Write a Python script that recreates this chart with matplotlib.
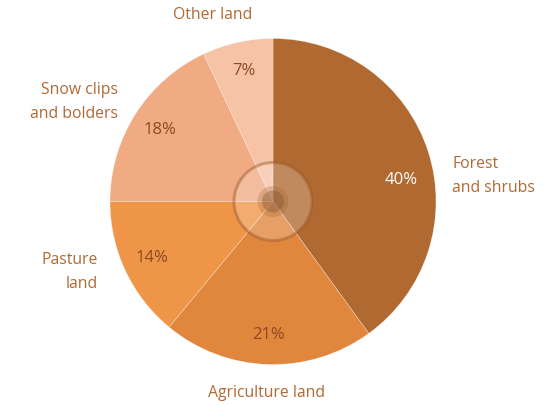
import matplotlib.pyplot as plt
from matplotlib.patches import Circle

# land use shares, clockwise from 12 o'clock
categories = ["Forest\nand shrubs", "Agriculture land", "Pasture\nland",
              "Snow clips\nand bolders", "Other land"]
shares = [40, 21, 14, 18, 7]
slice_colors = ["#B06A31", "#E0863D", "#EF9548", "#F0AB82", "#F7C3A7"]
pct_colors = ["white", "#8C4A22", "#8C4A22", "#8C4A22", "#8C4A22"]

W, H = 544, 405
plt.rcParams['font.family'] = ['Open Sans', 'DejaVu Sans']

fig = plt.figure(figsize=(W / 100, H / 100), dpi=100, facecolor='white')
ax = fig.add_axes([0, 0, 1, 1])

cx, cy, r = 273, H - 201.5, 163

wedges, texts, autotexts = ax.pie(
    shares, colors=slice_colors, startangle=90, counterclock=False,
    center=(cx, cy), radius=r, autopct='%d%%', pctdistance=0.82,
    wedgeprops=dict(edgecolor=(1, 1, 1, 0.6), linewidth=0.3),
    textprops=dict(fontsize=12))
for t, c in zip(autotexts, pct_colors):
    t.set_color(c)
# 40% label sits a bit lower than the slice middle
autotexts[0].set_position((cx + 128, cy + 21))

# pie() sets its own limits, so fix the pixel frame afterwards
ax.set_xlim(0, W)
ax.set_ylim(0, H)
ax.set_aspect('equal')
ax.axis('off')

# outer labels (pixel positions)
label_pos = [(452, 176, 'left'), (266, 393, 'center'), (98, 272, 'right'),
             (118, 102, 'right'), (213, 15, 'center')]
for name, (x, y, ha) in zip(categories, label_pos):
    ax.text(x, H - y, name, ha=ha, va='center', fontsize=11.3,
            color='#B06A35', linespacing=1.7, multialignment=ha)

# centre decoration
ax.add_patch(Circle((cx, cy), 39, facecolor='white', alpha=0.22, zorder=3))
ax.add_patch(Circle((cx, cy), 39, fill=False, edgecolor='#9A5A2A',
                    alpha=0.45, linewidth=2.2, zorder=3))
ax.add_patch(Circle((cx, cy), 15.5, facecolor='#A0622F', alpha=0.28, zorder=4))
ax.add_patch(Circle((cx, cy), 11, facecolor='#7E4A28', alpha=0.35, zorder=4))

fig.savefig('out.png', dpi=100, facecolor='white')
